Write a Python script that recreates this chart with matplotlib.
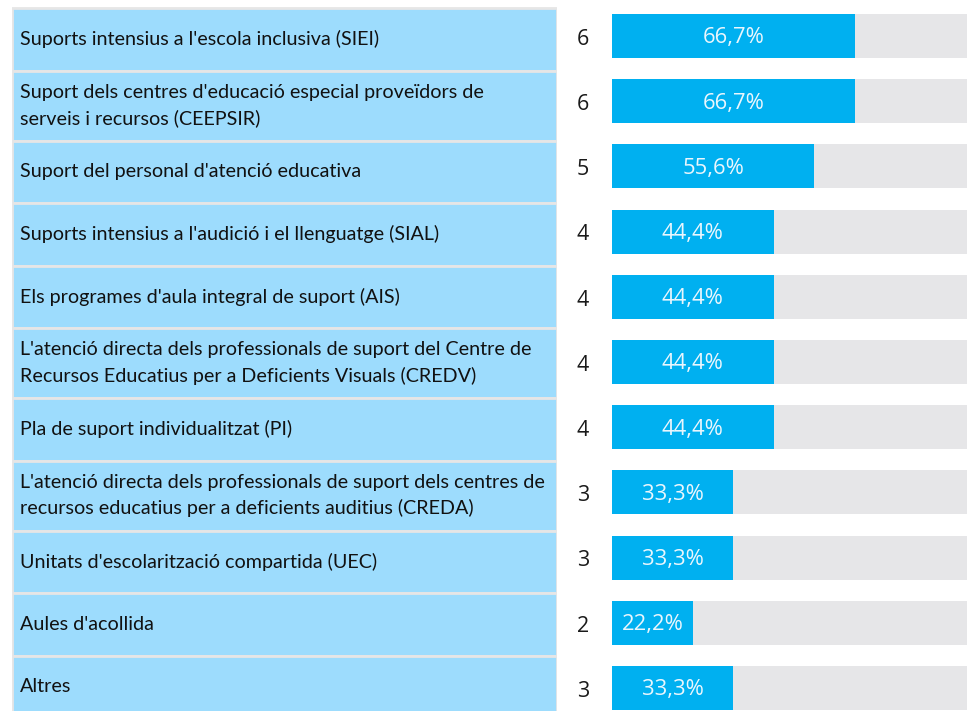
import numpy as np
import matplotlib
matplotlib.use("Agg")
import matplotlib.pyplot as plt

labels = [
    "Suports intensius a l'escola inclusiva (SIEI)",
    "Suport dels centres d'educació especial proveïdors de\nserveis i recursos (CEEPSIR)",
    "Suport del personal d'atenció educativa",
    "Suports intensius a l'audició i el llenguatge (SIAL)",
    "Els programes d'aula integral de suport (AIS)",
    "L'atenció directa dels professionals de suport del Centre de\nRecursos Educatius per a Deficients Visuals (CREDV)",
    "Pla de suport individualitzat (PI)",
    "L'atenció directa dels professionals de suport dels centres de\nrecursos educatius per a deficients auditius (CREDA)",
    "Unitats d'escolarització compartida (UEC)",
    "Aules d'acollida",
    "Altres",
]
counts = [6, 6, 5, 4, 4, 4, 4, 3, 3, 2, 3]
total = 9
pct = [c / total * 100 for c in counts]

W, H = 967, 711
fig = plt.figure(figsize=(W / 100, H / 100), dpi=100)

# columna d'etiquetes (unitats en píxels verticals)
axl = fig.add_axes([12 / W, 0, (557 - 12) / W, 1])
heights = np.array([70 if "\n" in l else 62.5 for l in labels])
tops = 8 + np.concatenate([[0], np.cumsum(heights)[:-1]])
axl.barh(tops + heights / 2, 1, height=heights, left=0, color="#9DDCFD",
         edgecolor="#E6E6E6", linewidth=2)
for y, l in zip(tops + heights / 2, labels):
    axl.text(0.015, y, l, ha="left", va="center", fontsize=14.2,
             family="Lato", color="#111111", linespacing=1.55)
axl.set_xlim(0, 1)
axl.set_ylim(H, 0)
axl.axis("off")

# barres
pitch = 65.2
axr = fig.add_axes([612 / W, 0, (W - 612) / W, 1])
y = np.arange(len(labels))
axr.barh(y, 100, height=44 / pitch, color="#E6E6E8")
axr.barh(y, pct, height=44 / pitch, color="#00B0F0")
for i in y:
    axr.text(pct[i] / 2, i + 0.03, f"{pct[i]:.1f}%".replace(".", ","), ha="center",
             va="center", fontsize=15.8, family="Open Sans", color="#EAF6FD")
    axr.text(-8, i + 0.05, str(counts[i]), ha="center", va="center",
             fontsize=15.5, family="Open Sans", color="#1A1A1A", clip_on=False)
axr.set_xlim(0, (W - 612) / 364 * 100)
axr.set_ylim((H - 36) / pitch, -36 / pitch)
axr.axis("off")

fig.savefig("out.png", dpi=100)
